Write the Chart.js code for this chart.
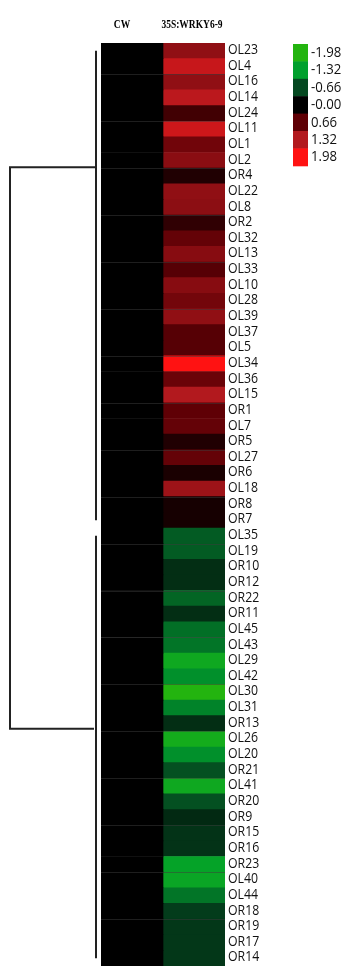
<!DOCTYPE html>
<html>
<head>
<meta charset="utf-8">
<script src="https://cdn.jsdelivr.net/npm/chart.js@4/dist/chart.umd.min.js"></script>
<style>
  html, body { margin: 0; padding: 0; background: #fff; overflow: hidden; }
  #wrap { position: relative; width: 346px; height: 978px; }
  canvas { display: block; }
</style>
</head>
<body>
<div id="wrap"><canvas id="heat" width="346" height="978" style="width:346px;height:978px"></canvas></div>
<script>
// Row (gene) names, top to bottom
const genes = [
  'OL23','OL4','OL16','OL14','OL24','OL11','OL1','OL2','OR4','OL22',
  'OL8','OR2','OL32','OL13','OL33','OL10','OL28','OL39','OL37','OL5',
  'OL34','OL36','OL15','OR1','OL7','OR5','OL27','OR6','OL18','OR8',
  'OR7',
  'OL35','OL19','OR10','OR12','OR22','OR11','OL45','OL43','OL29','OL42',
  'OL30','OL31','OR13','OL26','OL20','OR21','OL41','OR20','OR9','OR15',
  'OR16','OR23','OL40','OL44','OR18','OR19','OR17','OR14'
];

// Column titles
const samples = ['CW', '35S:WRKY6-9'];

// Expression values (log ratio) per column
const cwValues = genes.map(() => 0);
const wrkyValues = [
  1.05, 1.50, 1.05, 1.40, 0.45, 1.55, 0.80, 1.00, 0.22, 1.05,
  1.02, 0.33, 0.70, 0.98, 0.60, 0.98, 0.82, 1.05, 0.60, 0.60,
  1.98, 0.75, 1.32, 0.66, 0.70, 0.22, 0.70, 0.18, 1.15, 0.15,
  0.15,
  -0.80, -0.80, -0.42, -0.42, -0.88, -0.42, -0.95, -1.00, -1.60, -1.20,
  -1.98, -1.10, -0.42, -1.70, -1.20, -0.72, -1.60, -0.72, -0.38, -0.47,
  -0.47, -1.42, -1.50, -1.00, -0.55, -0.50, -0.50, -0.50
];

// Colour key tick labels
const keyValues = [-1.98, -1.32, -0.66, -0.00, 0.66, 1.32, 1.98];
const keyLabels = ['-1.98', '-1.32', '-0.66', '-0.00', '0.66', '1.32', '1.98'];

// Green-black-red colour ramp
const posStops = [[0, [0, 0, 0]], [0.66, [95, 0, 5]], [1.32, [178, 25, 30]], [1.98, [255, 18, 18]]];
const negStops = [[0, [0, 0, 0]], [0.66, [4, 72, 32]], [1.32, [0, 160, 45]], [1.98, [35, 180, 15]]];

function colorFor(v) {
  const stops = v >= 0 ? posStops : negStops;
  const a = Math.min(Math.abs(v), 1.98);
  for (let i = 1; i < stops.length; i++) {
    if (a <= stops[i][0]) {
      const [v0, c0] = stops[i - 1], [v1, c1] = stops[i];
      const t = (a - v0) / (v1 - v0);
      const c = c0.map((x, k) => Math.round(x + (c1[k] - x) * t));
      return `rgb(${c[0]},${c[1]},${c[2]})`;
    }
  }
  const c = stops[stops.length - 1][1];
  return `rgb(${c[0]},${c[1]},${c[2]})`;
}

const LABEL_FONT = "'Open Sans', sans-serif";

// draw text squeezed horizontally (narrow sans look)
function narrowText(ctx, text, x, y, sx) {
  ctx.save();
  ctx.translate(x, y);
  ctx.scale(sx, 1);
  ctx.fillText(text, 0, 0);
  ctx.restore();
}

// Column titles, faint tile seams, dendrogram, row labels and colour key
const extras = {
  id: 'extras',
  afterDatasetsDraw(chart) {
    const ctx = chart.ctx;
    const ys = chart.scales.y;
    const area = chart.chartArea;
    const rowY = r => ys.getPixelForValue(r - 0.5);

    // faint seams every three rows
    ctx.save();
    ctx.strokeStyle = 'rgba(60,60,60,0.5)';
    ctx.lineWidth = 1;
    for (let b = 2; b < genes.length; b += 3) {
      const y = Math.round(rowY(b)) + 0.5;
      ctx.beginPath();
      ctx.moveTo(area.left, y);
      ctx.lineTo(area.right, y);
      ctx.stroke();
    }
    ctx.restore();
  },
  afterDraw(chart) {
    const ctx = chart.ctx;
    const ys = chart.scales.y;
    const xs = chart.scales.x;
    const area = chart.chartArea;
    const rowC = r => ys.getPixelForValue(r);
    const rowY = r => ys.getPixelForValue(r - 0.5);

    // row labels from the category axis
    ctx.save();
    ctx.fillStyle = '#111';
    ctx.font = '15px ' + LABEL_FONT;
    ctx.textBaseline = 'middle';
    ctx.textAlign = 'left';
    ys.ticks.forEach((t, i) => {
      narrowText(ctx, ys.getLabelForValue(t.value), area.right + 3, ys.getPixelForTick(i) - 1, 0.82);
    });
    ctx.restore();

    // column titles
    ctx.save();
    ctx.fillStyle = '#000';
    ctx.font = "bold 13px 'Liberation Serif', serif";
    ctx.textBaseline = 'alphabetic';
    ctx.textAlign = 'center';
    const titleX = [xs.getPixelForValue(0.5) - 10, xs.getPixelForValue(1.5) - 2];
    samples.forEach((s, i) => narrowText(ctx, s, titleX[i], 28, 0.73));
    ctx.restore();

    // dendrogram
    const redEnd = wrkyValues.findIndex(v => v < 0) - 1;
    const trunkX = area.left - 5;
    const rootX = 10;
    ctx.save();
    ctx.strokeStyle = '#222';
    ctx.lineWidth = 2;
    ctx.beginPath();
    ctx.moveTo(trunkX, rowC(0));
    ctx.lineTo(trunkX, rowC(redEnd));
    ctx.moveTo(trunkX, rowC(redEnd + 1));
    ctx.lineTo(trunkX, rowC(genes.length - 1));
    const joinA = rowY(7.95), joinB = rowY(43.83);
    ctx.moveTo(trunkX, joinA);
    ctx.lineTo(rootX, joinA);
    ctx.lineTo(rootX, joinB);
    ctx.lineTo(trunkX - 2, joinB);
    ctx.stroke();
    ctx.restore();

    // colour key
    const kx = 293, kw = 15, ky = 44, kh = 17.4;
    ctx.save();
    ctx.font = '15px ' + LABEL_FONT;
    ctx.textBaseline = 'middle';
    ctx.textAlign = 'left';
    keyValues.forEach((v, i) => {
      ctx.fillStyle = colorFor(v);
      ctx.fillRect(kx, ky + i * kh, kw, kh + 0.5);
      ctx.fillStyle = '#111';
      narrowText(ctx, keyLabels[i], kx + kw + 3, ky + i * kh + kh / 2, 0.88);
    });
    ctx.restore();
  }
};

new Chart(document.getElementById('heat'), {
  type: 'bar',
  data: {
    labels: genes,
    datasets: [
      { label: samples[0], data: cwValues.map(() => 1), backgroundColor: cwValues.map(colorFor) },
      { label: samples[1], data: wrkyValues.map(() => 1), backgroundColor: wrkyValues.map(colorFor) }
    ]
  },
  options: {
    indexAxis: 'y',
    responsive: false,
    animation: false,
    devicePixelRatio: 1,
    layout: { padding: { left: 101, top: 43, right: 0, bottom: 0 } },
    datasets: { bar: { barPercentage: 1, categoryPercentage: 1, borderWidth: 0 } },
    plugins: { legend: { display: false }, tooltip: { enabled: false }, title: { display: false } },
    scales: {
      x: { type: 'linear', stacked: true, min: 0, max: 2, display: false },
      y: {
        type: 'category',
        stacked: true,
        position: 'right',
        grid: { display: false, drawTicks: false },
        border: { display: false },
        ticks: {
          autoSkip: false,
          padding: 3,
          color: 'rgba(0,0,0,0)',
          font: { family: LABEL_FONT, size: 15 }
        },
        afterFit(scale) { scale.width = 121; }
      }
    }
  },
  plugins: [extras]
});
</script>
</body>
</html>
